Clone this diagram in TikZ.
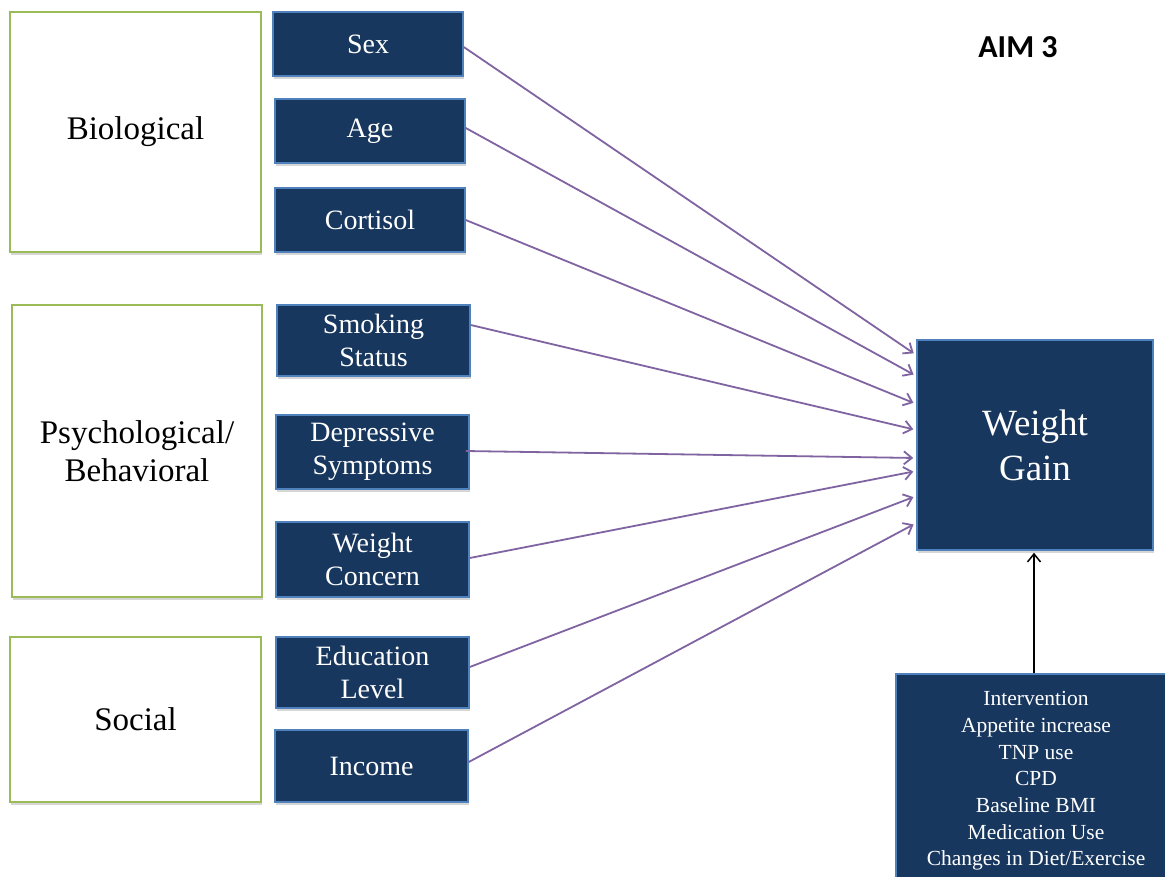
\documentclass[tikz,border=0pt]{standalone}
\usepackage{fontspec}
\setmainfont{Liberation Serif}
\newfontfamily\aimfont{Carlito}
\usetikzlibrary{arrows.meta,shadows}
\definecolor{navy}{HTML}{17375E}
\definecolor{bluebrd}{HTML}{4F81BD}
\definecolor{greenbrd}{HTML}{9BBB59}
\definecolor{purp}{HTML}{8064A2}
\begin{document}
\begin{tikzpicture}[x=1pt,y=-1pt,
  shadowed/.style={drop shadow={shadow xshift=1pt,shadow yshift=-2.5pt,opacity=0.16,fill=black}},
  catbox/.style={draw=greenbrd,line width=2pt,fill=white,shadowed,font=\fontsize{33}{38}\selectfont,align=center,inner sep=0pt},
  varbox/.style={draw=bluebrd,line width=1.5pt,fill=navy,shadowed,text=white,font=\fontsize{28}{33}\selectfont,align=center,inner sep=0pt},
  link/.style={draw=purp,line width=1.8pt,-{Straight Barb[length=8pt,width=13pt]},shorten >=3pt},
  uplink/.style={draw=black,line width=1.5pt,-{Straight Barb[length=8pt,width=13pt]},shorten >=2pt}
]
\useasboundingbox (0,0) rectangle (1165,876);
\fill[white] (0,0) rectangle (1165,876);

% category boxes
\node[catbox,minimum width=251pt,minimum height=240pt] (bio) at (135.5,132) {Biological};
\node[catbox,minimum width=250pt,minimum height=292pt] (psy) at (137,451) {Psychological/\\Behavioral};
\node[catbox,minimum width=251pt,minimum height=165pt] (soc) at (135.5,719.5) {Social};

% variable boxes
\node[varbox,minimum width=190pt,minimum height=64pt] (sex) at (368,44) {Sex};
\node[varbox,minimum width=190pt,minimum height=64pt] (age) at (370,131) {Age};
\node[varbox,minimum width=190pt,minimum height=64pt] (cort) at (370,220) {Cortisol};
\node[varbox,minimum width=193pt,minimum height=71pt] (smok) at (373.5,340.5) {Smoking\\Status};
\node[varbox,minimum width=193pt,minimum height=74pt] (dep) at (372.5,452) {Depressive\\Symptoms};
\node[varbox,minimum width=193pt,minimum height=75pt] (wc) at (372.5,559.5) {Weight\\Concern};
\node[varbox,minimum width=193pt,minimum height=71pt] (edu) at (372.5,672.5) {Education\\Level};
\node[varbox,minimum width=193pt,minimum height=72pt] (inc) at (371.5,766) {Income};

% outcome
\node[varbox,minimum width=236pt,minimum height=210pt,font=\fontsize{37}{45}\selectfont] (wg) at (1035,445) {Weight\\Gain};

% covariates
\node[varbox,minimum width=280pt,minimum height=214pt,font=\fontsize{21.5}{26.7}\selectfont] (conf) at (1036,781)
  {Intervention\\Appetite increase\\TNP use\\CPD\\Baseline BMI\\Medication Use\\Changes in Diet/Exercise};

% title
\node[font=\aimfont\bfseries\fontsize{32}{38}\selectfont] (aim) at (1018,47) {AIM 3};

% connectors
\draw[link] ([yshift=-3pt]sex.east) -- ([yshift=90pt]wg.west);
\draw[link] ([yshift=3pt]age.east) -- ([yshift=69pt]wg.west);
\draw[link] (cort.east) -- ([yshift=41pt]wg.west);
\draw[link] ([yshift=15.5pt]smok.east) -- ([yshift=15pt]wg.west);
\draw[link] ([xshift=-4pt,yshift=1pt]dep.east) -- ([yshift=-13pt]wg.west);
\draw[link] ([yshift=1.5pt]wc.east) -- ([yshift=-26pt]wg.west);
\draw[link] ([yshift=5.5pt]edu.east) -- ([yshift=-51pt]wg.west);
\draw[link] ([yshift=4pt]inc.east) -- ([yshift=-78pt]wg.west);
\draw[uplink] ([xshift=-2pt]conf.north) -- ([xshift=-1pt]wg.south);
\end{tikzpicture}
\end{document}
